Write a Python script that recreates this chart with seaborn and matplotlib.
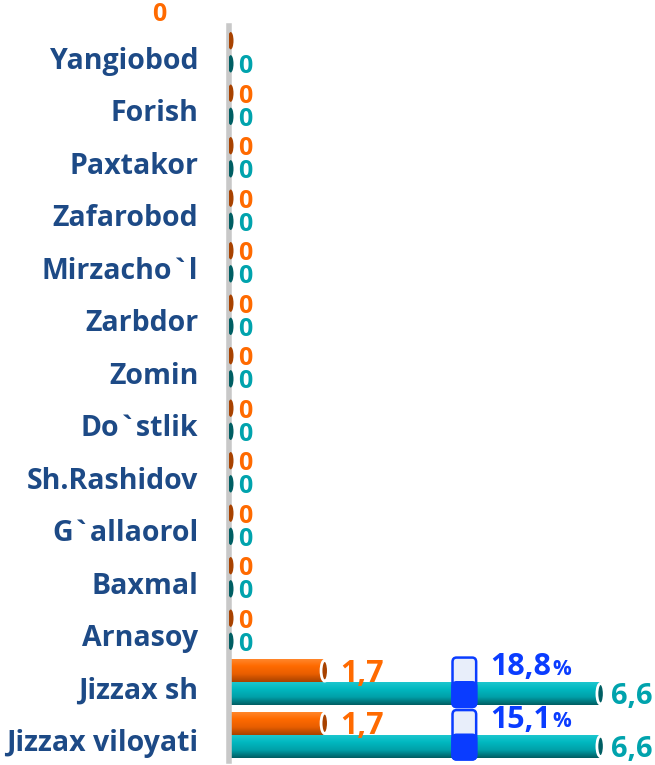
import numpy as np
import pandas as pd
import matplotlib
matplotlib.use('Agg')
import matplotlib.pyplot as plt
import matplotlib.transforms as mtransforms
from matplotlib.colors import LinearSegmentedColormap
from matplotlib.patches import Ellipse, FancyBboxPatch
import seaborn as sns

# data
regions = ['Yangiobod', 'Forish', 'Paxtakor', 'Zafarobod', 'Mirzacho`l', 'Zarbdor',
           'Zomin', 'Do`stlik', 'Sh.Rashidov', 'G`allaorol', 'Baxmal', 'Arnasoy',
           'Jizzax sh', 'Jizzax viloyati']
orange_vals = [0, 0, 0, 0, 0, 0, 0, 0, 0, 0, 0, 0, 1.7, 1.7]
teal_vals = [0, 0, 0, 0, 0, 0, 0, 0, 0, 0, 0, 0, 6.6, 6.6]
share_regions = ['Jizzax sh', 'Jizzax viloyati']
share_vals = [18.8, 15.1]

ORANGE = '#FF6A00'
TEAL = '#00B0B8'
LBL_TEAL = '#00A3AD'
NAVY = '#1D4A86'
BLUE = '#0A3CFF'

sns.set_theme(style='white')
plt.rcParams['font.family'] = ['Open Sans', 'DejaVu Sans']

df = pd.DataFrame({
    'region': regions * 2,
    'value': orange_vals + teal_vals,
    'series': ['a'] * len(regions) + ['b'] * len(regions),
})

fig = plt.figure(figsize=(6.55, 7.65), dpi=100)
ax = fig.add_axes([229 / 655, 4 / 765, 1 - 229 / 655, 1 - 30 / 765])

sns.barplot(data=df, x='value', y='region', hue='series', orient='h',
            palette=[ORANGE, TEAL], width=0.88, saturation=1, legend=False,
            ax=ax, edgecolor='none')

px_unit = 56.3
ax.set_xlim(0, (655 - 229) / px_unit)
ax.set_ylim(len(regions) - 0.5, -0.5)

grad_maps = [
    LinearSegmentedColormap.from_list('o', ['#FF8A30', '#FF6A00', '#E85E00', '#A84200']),
    LinearSegmentedColormap.from_list('t', ['#20C8D0', '#00B8C0', '#00A0A8', '#005E63']),
]
cap_cols = ['#A84200', '#005E63']
grad = np.linspace(0, 1, 64).reshape(-1, 1)

for k, cont in enumerate(ax.containers):
    for p in cont.patches:
        x0, y0 = p.get_xy()
        w, h = p.get_width(), p.get_height()
        if w > 0:
            im = ax.imshow(grad, extent=[x0, x0 + w, y0 + h, y0], cmap=grad_maps[k],
                           aspect='auto', origin='upper', zorder=2.1)
            im.set_clip_path(p)
            cap = Ellipse((x0 + w, y0 + h / 2), 0.13, h * 0.9, facecolor=cap_cols[k],
                          edgecolor='white', lw=2, zorder=3)
        else:
            cap = Ellipse((x0 + 0.03, y0 + h / 2), 0.1, h * 0.75, facecolor=cap_cols[k],
                          edgecolor='none', zorder=3)
        ax.add_patch(cap)

ax.set_xlim(0, (655 - 229) / px_unit)
ax.set_ylim(len(regions) - 0.5, -0.5)

# value labels
def fmt(v):
    return '0' if v == 0 else f'{v:.1f}'.replace('.', ',')

dx = 9 / px_unit
for i, v in enumerate(orange_vals):
    if i == 0:
        ax.text(-70 / px_unit, -0.72, fmt(v), color=ORANGE, fontsize=18, fontweight='bold',
                ha='center', va='center', clip_on=False)
        continue
    ax.text(v + dx + (0.12 if v > 0 else 0), i - 0.22 + 0.06, fmt(v), color=ORANGE,
            fontsize=22 if v > 0 else 18, fontweight='bold', ha='left', va='center')
for i, v in enumerate(teal_vals):
    ax.text(v + dx + (0.02 if v > 0 else 0), i + 0.22 + 0.06, fmt(v), color=LBL_TEAL,
            fontsize=21 if v > 0 else 18, fontweight='bold', ha='left', va='center')

# share markers
fig.canvas.draw()
rend = fig.canvas.get_renderer()
for r, s in zip(share_regions, share_vals):
    i = regions.index(r)
    bx, bw = 3.97, 0.42
    top = FancyBboxPatch((bx, i - 0.47), bw, 0.94, boxstyle='round,pad=0,rounding_size=0.07',
                         facecolor='#E8EEFA', edgecolor=BLUE, lw=1.8, zorder=4,
                         mutation_aspect=1.2)
    ax.add_patch(top)
    low = FancyBboxPatch((bx, i), bw, 0.47, boxstyle='round,pad=0,rounding_size=0.07',
                         facecolor=BLUE, edgecolor=BLUE, lw=1.8, zorder=4.1,
                         mutation_aspect=1.2)
    ax.add_patch(low)
    t = ax.text(4.64, i - 0.29, f'{s:.1f}'.replace('.', ','), color=BLUE, fontsize=22,
                fontweight='bold', ha='left', va='center', zorder=5)
    bb = t.get_window_extent(rend).transformed(ax.transData.inverted())
    ax.text(bb.x1 + 0.02, i - 0.25, '%', color=BLUE, fontsize=15, fontweight='bold',
            ha='left', va='center', zorder=5)

# axes styling
for side in ['top', 'right', 'bottom']:
    ax.spines[side].set_visible(False)
ax.spines['left'].set_color('#C8C8C8')
ax.spines['left'].set_linewidth(4)
ax.set_xticks([])
ax.set_xlabel('')
ax.set_ylabel('')
ax.tick_params(axis='y', length=0, pad=22)
for lab in ax.get_yticklabels():
    lab.set_color(NAVY)
    lab.set_fontweight('bold')
    lab.set_fontsize(20.5)
    lab.set_transform(lab.get_transform() + mtransforms.ScaledTranslation(0, -4 / 72, fig.dpi_scale_trans))

fig.savefig('out.png', dpi=100)
